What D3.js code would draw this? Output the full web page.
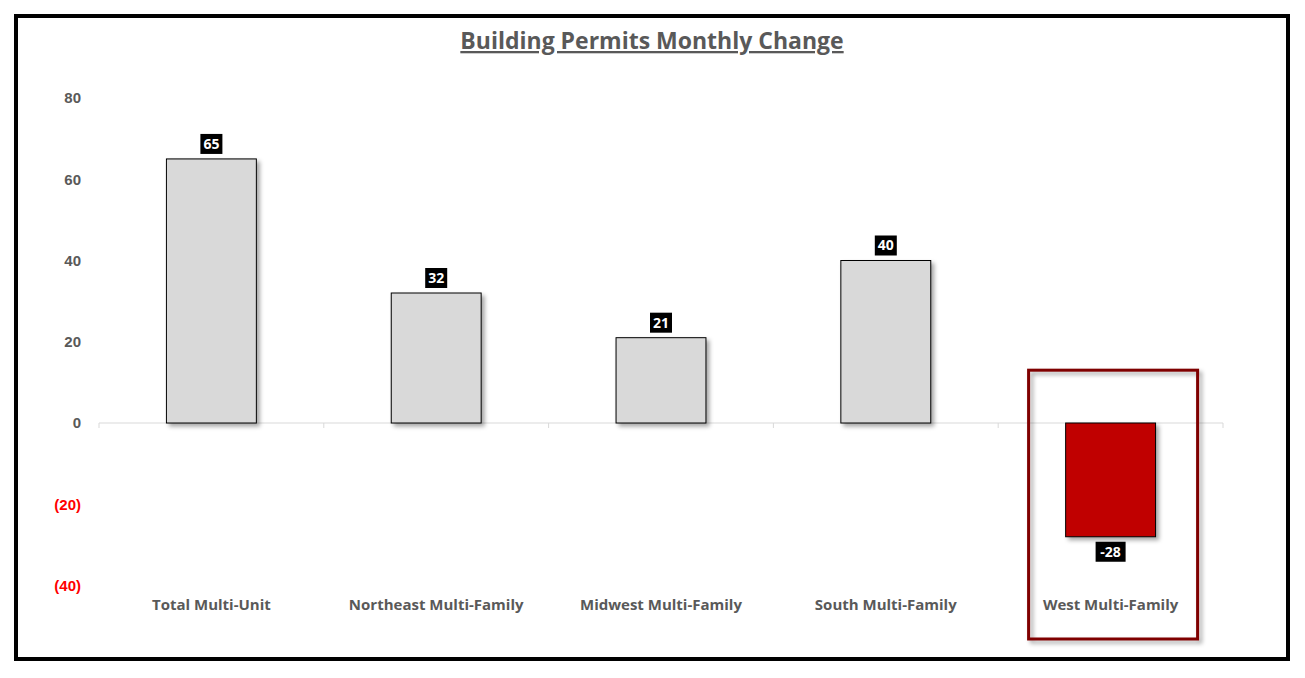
<!DOCTYPE html>
<html>
<head>
<meta charset="utf-8">
<script src="https://cdn.jsdelivr.net/npm/d3@7/dist/d3.min.js"></script>
<style>
  body { margin: 0; background: #fff; }
  svg { font-family: "Open Sans", "Noto Sans", sans-serif; }
</style>
</head>
<body>
<div id="chart"></div>
<script>
// Chart data
const categories = ["Total Multi-Unit", "Northeast Multi-Family", "Midwest Multi-Family", "South Multi-Family", "West Multi-Family"];
const changes = [65, 32, 21, 40, -28];
const yTicks = [80, 60, 40, 20, 0, -20, -40];
const highlighted = "West Multi-Family";

const W = 1305, H = 678;
const margin = { top: 98, right: 82, bottom: 92, left: 99 };
const width = W - margin.left - margin.right;
const height = H - margin.top - margin.bottom;

const svg = d3.select("#chart")
  .append("svg")
  .attr("width", W)
  .attr("height", H);

// drop shadow for bars
const defs = svg.append("defs");
const f = defs.append("filter").attr("id", "shadow")
  .attr("x", "-20%").attr("y", "-20%").attr("width", "150%").attr("height", "150%");
f.append("feDropShadow")
  .attr("dx", 3).attr("dy", 3).attr("stdDeviation", 2)
  .attr("flood-color", "#000").attr("flood-opacity", 0.35);

// outer frame
svg.append("rect")
  .attr("x", 16).attr("y", 16)
  .attr("width", 1272).attr("height", 643)
  .attr("fill", "none")
  .attr("stroke", "#000")
  .attr("stroke-width", 4);

// title
svg.append("text")
  .attr("x", 652).attr("y", 49)
  .attr("text-anchor", "middle")
  .attr("font-size", 23)
  .attr("font-weight", "bold")
  .attr("fill", "#595959")
  .attr("text-decoration", "underline")
  .text("Building Permits Monthly Change");

const g = svg.append("g")
  .attr("transform", `translate(${margin.left},${margin.top})`);

// Scales
const x = d3.scaleBand().domain(categories).range([0, width]).paddingInner(0.6).paddingOuter(0.3);
const xb = d3.scaleBand().domain(categories).range([0, width]);
const y = d3.scaleLinear().domain([-40, 80]).range([height - 0.5, 0]);

// Y axis labels
const yAxis = g.append("g")
  .call(d3.axisLeft(y).tickValues(yTicks).tickSize(0).tickPadding(18)
    .tickFormat(d => d < 0 ? `(${Math.abs(d)})` : d));
yAxis.select(".domain").remove();
yAxis.selectAll("text")
  .attr("font-size", 15)
  .attr("font-weight", "bold")
  .attr("fill", d => d < 0 ? "#ff0000" : "#595959");

// zero line with tick marks at band edges
g.append("line")
  .attr("x1", 0).attr("x2", width)
  .attr("y1", y(0)).attr("y2", y(0))
  .attr("stroke", "#d9d9d9");
g.selectAll(".sep")
  .data(categories.concat([null]))
  .enter().append("line")
  .attr("x1", (d, i) => i * xb.bandwidth())
  .attr("x2", (d, i) => i * xb.bandwidth())
  .attr("y1", y(0)).attr("y2", y(0) + 5)
  .attr("stroke", "#d9d9d9");

// highlight box around West
const hb = xb(highlighted) + xb.bandwidth() / 2;
g.append("rect")
  .attr("x", hb - 82).attr("y", y(13))
  .attr("width", 169).attr("height", height + 53 - y(13))
  .attr("fill", "none")
  .attr("stroke", "#7f0000")
  .attr("stroke-width", 3)
  .attr("filter", "url(#shadow)");

// bars
g.selectAll(".bar")
  .data(changes)
  .enter().append("rect")
  .attr("x", (d, i) => x(categories[i]))
  .attr("width", x.bandwidth())
  .attr("y", d => y(Math.max(0, d)))
  .attr("height", d => Math.abs(y(d) - y(0)))
  .attr("fill", (d, i) => categories[i] === highlighted ? "#c00000" : "#d9d9d9")
  .attr("stroke", "#000")
  .attr("stroke-width", 1)
  .attr("filter", "url(#shadow)");

// value labels
const lbl = g.selectAll(".lbl")
  .data(changes)
  .enter().append("g")
  .attr("transform", (d, i) => {
    const cx = x(categories[i]) + x.bandwidth() / 2;
    const cy = d >= 0 ? y(d) - 15 : y(d) + 15;
    return `translate(${cx},${cy})`;
  });
lbl.append("rect")
  .attr("x", d => d < 0 ? -15 : -11).attr("y", -10)
  .attr("width", d => d < 0 ? 30 : 22).attr("height", 20)
  .attr("fill", "#000");
lbl.append("text")
  .attr("text-anchor", "middle")
  .attr("dy", "0.35em")
  .attr("font-size", 14)
  .attr("font-weight", "bold")
  .attr("fill", "#fff")
  .text(d => d);

// category labels
g.selectAll(".cat")
  .data(categories)
  .enter().append("text")
  .attr("x", d => xb(d) + xb.bandwidth() / 2)
  .attr("y", height + 24)
  .attr("text-anchor", "middle")
  .attr("font-size", 15)
  .attr("font-weight", "bold")
  .attr("fill", "#595959")
  .text(d => d);
</script>
</body>
</html>
